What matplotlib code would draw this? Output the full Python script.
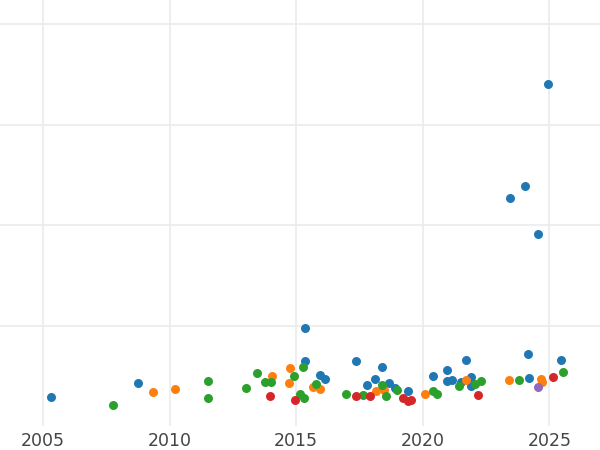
import matplotlib
matplotlib.use('Agg')
import matplotlib.pyplot as plt

blue_x = [2005.3, 2008.75, 2015.35, 2015.35, 2015.95, 2016.15, 2017.35, 2017.8, 2018.1, 2018.4,
          2018.65, 2018.9, 2019.4, 2020.4, 2020.95, 2020.95, 2021.15, 2021.5, 2021.7, 2021.9,
          2021.9, 2023.45, 2024.05, 2024.15, 2024.2, 2024.55, 2024.95, 2025.45]
blue_y = [0.29, 0.43, 0.98, 0.65, 0.51, 0.47, 0.65, 0.41, 0.47, 0.59,
          0.43, 0.38, 0.35, 0.50, 0.56, 0.45, 0.46, 0.44, 0.66, 0.49,
          0.40, 2.27, 2.39, 0.72, 0.48, 1.91, 3.40, 0.66]
orange_x = [2009.35, 2010.2, 2014.05, 2014.7, 2014.75, 2015.65, 2015.95, 2018.15, 2018.45,
            2020.1, 2021.7, 2023.4, 2024.65, 2024.7]
orange_y = [0.34, 0.37, 0.50, 0.43, 0.58, 0.39, 0.37, 0.35, 0.36, 0.32, 0.46, 0.46, 0.47, 0.44]
green_x = [2007.75, 2011.5, 2011.5, 2013.0, 2013.45, 2013.75, 2014.0, 2014.9, 2015.15, 2015.25,
           2015.3, 2015.8, 2016.95, 2017.65, 2018.4, 2018.55, 2019.0, 2020.4, 2020.55, 2021.45,
           2022.05, 2022.3, 2023.8, 2025.55]
green_y = [0.21, 0.45, 0.28, 0.38, 0.53, 0.44, 0.44, 0.50, 0.32, 0.59,
           0.28, 0.42, 0.32, 0.31, 0.41, 0.30, 0.36, 0.35, 0.32, 0.40,
           0.42, 0.45, 0.46, 0.54]
red_x = [2013.95, 2014.95, 2017.35, 2017.9, 2019.2, 2019.4, 2019.55, 2022.2, 2025.15]
red_y = [0.30, 0.26, 0.30, 0.30, 0.28, 0.25, 0.26, 0.31, 0.49]
purple_x = [2024.55]
purple_y = [0.39]

fig = plt.figure(figsize=(6, 4.5), dpi=100)
ax = fig.add_axes([0, 0.053, 1, 0.947])
for xs, ys, c in [(blue_x, blue_y, '#1f77b4'), (orange_x, orange_y, '#ff7f0e'),
                  (green_x, green_y, '#2ca02c'), (red_x, red_y, '#d62728'),
                  (purple_x, purple_y, '#9467bd')]:
    ax.scatter(xs, ys, s=42, color=c, zorder=3, linewidths=0)

ax.set_xlim(2003.3, 2027.0)
ax.set_ylim(0, 4.24)
ax.set_xticks([2005, 2010, 2015, 2020, 2025])
ax.set_yticks([1, 2, 3, 4])
ax.set_yticklabels([])
ax.tick_params(length=0, labelsize=12.5, labelcolor='#444444', pad=4)
ax.grid(True, color='#ebebeb', linewidth=1.2)
for s in ax.spines.values():
    s.set_visible(False)
fig.savefig('out.png')
